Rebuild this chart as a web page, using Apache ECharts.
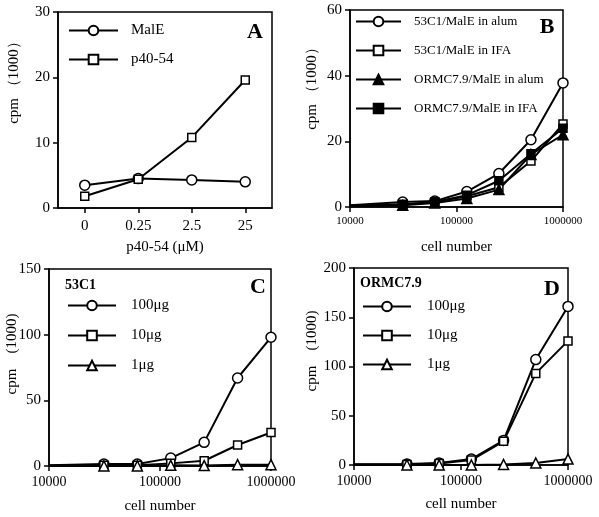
<!DOCTYPE html>
<html><head><meta charset="utf-8">
<script src="https://cdn.jsdelivr.net/npm/echarts@6/dist/echarts.min.js"></script>
<style>html,body{margin:0;padding:0;background:#fff}#c{width:599px;height:517px}</style>
</head><body><div id="c"></div>
<script>
// ---- Panel A ----
const aCats = ['0', '0.25', '2.5', '25'];
const aMalE = [3.5, 4.5, 4.3, 4.0];
const aP4054 = [1.8, 4.4, 10.8, 19.6];
// ---- Cell numbers (B, C, D); first entry is where the line enters at the axis ----
const cells = [10000, 31250, 62500, 125000, 250000, 500000, 1000000];
// ---- Panel B ----
const b53alum = [0.5, 1.5, 1.8, 4.7, 10.2, 20.5, 37.8];
const b53ifa = [0.4, 0.8, 1.5, 3.3, 6.0, 14.0, 25.3];
const bORalum = [0.3, 0.5, 1.2, 2.6, 5.3, 16.0, 22.0];
const bORifa = [0.4, 0.7, 1.5, 3.6, 8.0, 16.2, 24.0];
// ---- Panel C (53C1) ----
const c100 = [0.5, 1.5, 1.5, 6.0, 18.0, 67.0, 98.0];
const c10 = [0.3, 0.5, 0.5, 2.0, 4.0, 16.0, 25.5];
const c1 = [0.0, 0.0, 0.0, 0.5, 0.3, 1.0, 1.0];
// ---- Panel D (ORMC7.9) ----
const d100 = [0.8, 1.0, 2.0, 6.0, 25.0, 107.0, 161.0];
const d10 = [0.5, 0.5, 1.5, 5.0, 24.0, 93.0, 126.0];
const d1 = [0.0, 0.0, 0.0, 0.0, 0.5, 2.0, 6.0];

const FONT = "'Liberation Serif','Times New Roman',serif";
const K = '#000';

function pairs(arr) {
  return arr.map((v, i) => i === 0 ? { value: [cells[i], v], symbol: 'none' } : [cells[i], v]);
}
function ser(name, idx, data, symbol, filled, size) {
  return {
    type: 'line', name, xAxisIndex: idx, yAxisIndex: idx, data,
    symbol, symbolSize: size, showSymbol: true, animation: false,
    lineStyle: { color: K, width: 2 },
    itemStyle: { color: filled ? K : '#fff', borderColor: K, borderWidth: 1.5 },
    emphasis: { disabled: true }, z: 3
  };
}
function logX(idx, labelSize, nameGap) {
  return {
    type: 'log', logBase: 10, min: 10000, max: 1000000, gridIndex: idx,
    name: 'cell number', nameLocation: 'middle', nameGap,
    nameTextStyle: { fontFamily: FONT, fontSize: 15, color: K },
    axisLine: { show: true, lineStyle: { color: K, width: 1.5 } },
    axisTick: { show: true, length: 5, lineStyle: { color: K, width: 1.5 } },
    minorTick: { show: false }, splitLine: { show: false },
    axisLabel: { fontFamily: FONT, fontSize: labelSize, color: K, margin: 9,
      formatter: v => String(Math.round(v)) }
  };
}
function valY(idx, max, interval) {
  return {
    type: 'value', min: 0, max, interval, gridIndex: idx,
    axisLine: { show: true, lineStyle: { color: K, width: 1.5 } },
    axisTick: { show: true, length: 5, inside: false, lineStyle: { color: K, width: 1.5 } },
    splitLine: { show: false },
    axisLabel: { fontFamily: FONT, fontSize: 15, color: K, margin: 8 }
  };
}
function legend(left, top, names, gap, textPad, w, fs) {
  return {
    orient: 'vertical', left, top, padding: 0, data: names, itemWidth: w, itemHeight: 12, itemGap: gap,
    selectedMode: false,
    textStyle: { fontFamily: FONT, fontSize: fs || 15, color: K, padding: [0, 0, 0, textPad] }
  };
}
function txt(x, y, s, size, bold, rot, align) {
  return { type: 'text', x, y, rotation: rot || 0, silent: true,
    style: { text: s, font: (bold ? 'bold ' : '') + size + 'px ' + FONT, fill: K,
      textAlign: align || 'center', textVerticalAlign: 'middle' } };
}

const gridBase = { show: true, borderColor: K, borderWidth: 1.5, backgroundColor: 'transparent', containLabel: false };

const option = {
  animation: false,
  backgroundColor: '#fff',
  grid: [
    Object.assign({ left: 58, top: 12, right: 327, bottom: 309 }, gridBase),
    Object.assign({ left: 350, top: 10, right: 36, bottom: 310 }, gridBase),
    Object.assign({ left: 49, top: 269, right: 328, bottom: 51 }, gridBase),
    Object.assign({ left: 354, top: 268, right: 31, bottom: 52 }, gridBase)
  ],
  xAxis: [
    {
      type: 'category', data: aCats, boundaryGap: true, gridIndex: 0,
      name: 'p40-54 (μM)', nameLocation: 'middle', nameGap: 32,
      nameTextStyle: { fontFamily: FONT, fontSize: 15, color: K },
      axisLine: { show: true, lineStyle: { color: K, width: 1.5 } },
      axisTick: { show: true, alignWithLabel: true, length: 5, lineStyle: { color: K, width: 1.5 } },
      axisLabel: { fontFamily: FONT, fontSize: 15, color: K, margin: 11 }
    },
    logX(1, 11, 33),
    logX(2, 14, 33),
    logX(3, 14, 32)
  ],
  yAxis: [valY(0, 30, 10), valY(1, 60, 20), valY(2, 150, 50), valY(3, 200, 50)],
  legend: [
    legend(68, 23, ['MalE', 'p40-54'], 14, 8, 49, 15),
    legend(355, 15, ['53C1/MalE in alum', '53C1/MalE in IFA', 'ORMC7.9/MalE in alum', 'ORMC7.9/MalE in IFA'], 16, 8, 45, 13),
    legend(67, 298, ['100μg', '10μg', '1μg'], 15, 10, 48, 15),
    legend(362, 299, ['100μg', '10μg', '1μg'], 14, 11, 48, 15)
  ],
  series: [
    ser('MalE', 0, aMalE, 'circle', false, 10),
    ser('p40-54', 0, aP4054, 'rect', false, 8),
    ser('53C1/MalE in alum', 1, pairs(b53alum), 'circle', false, 10),
    ser('53C1/MalE in IFA', 1, pairs(b53ifa), 'rect', false, 8),
    ser('ORMC7.9/MalE in alum', 1, pairs(bORalum), 'triangle', true, 10),
    ser('ORMC7.9/MalE in IFA', 1, pairs(bORifa), 'rect', true, 8),
    ser('100μg', 2, pairs(c100), 'circle', false, 10),
    ser('10μg', 2, pairs(c10), 'rect', false, 8),
    ser('1μg', 2, pairs(c1), 'triangle', false, 10),
    ser('100μg', 3, pairs(d100), 'circle', false, 10),
    ser('10μg', 3, pairs(d10), 'rect', false, 8),
    ser('1μg', 3, pairs(d1), 'triangle', false, 10)
  ],
  graphic: [
    txt(255, 32, 'A', 22, true),
    txt(547, 27, 'B', 22, true),
    txt(258, 287, 'C', 22, true),
    txt(552, 289, 'D', 22, true),
    txt(65, 285, '53C1', 14, true, 0, 'left'),
    txt(360, 283, 'ORMC7.9', 14, true, 0, 'left'),
    txt(14, 79, 'cpm （1000）', 15, false, Math.PI / 2),
    txt(312, 85, 'cpm （1000）', 15, false, Math.PI / 2),
    txt(12, 354, 'cpm    (1000)', 15, false, Math.PI / 2),
    txt(312, 351, 'cpm    (1000)', 15, false, Math.PI / 2)
  ]
};

const chart = echarts.init(document.getElementById('c'), null, { renderer: 'canvas' });
chart.setOption(option);
</script>
</body></html>
